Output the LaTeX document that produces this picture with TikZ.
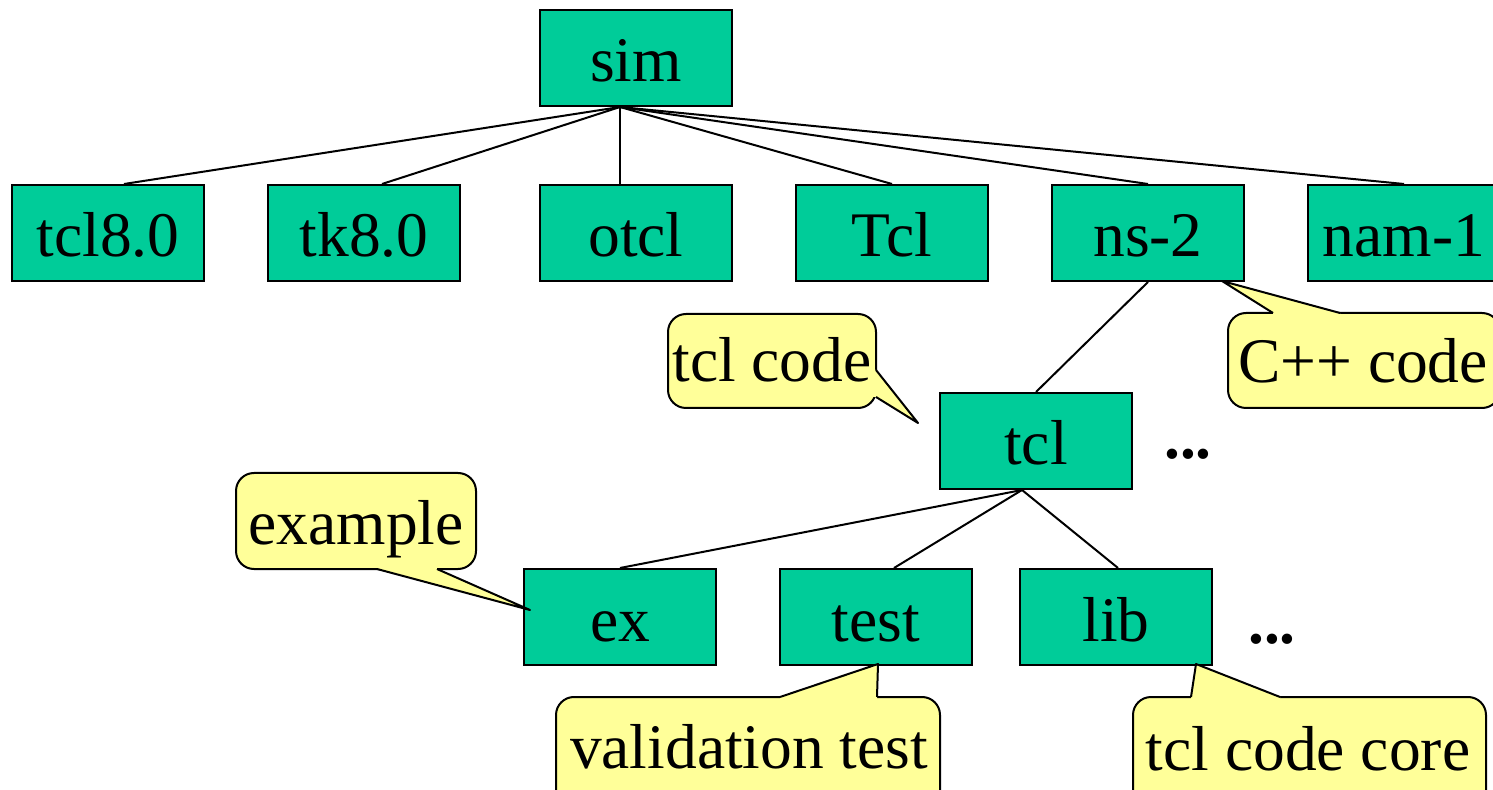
\documentclass[tikz,border=0pt]{standalone}
\usepackage{fontspec}
\setmainfont{Liberation Serif}
\definecolor{boxgreen}{RGB}{0,204,153}
\definecolor{calloutyellow}{RGB}{255,255,153}
\begin{document}
\begin{tikzpicture}[x=0.5pt,y=-0.5pt,
  bigfont/.style={font=\fontsize{31.75}{38}\selectfont},
  dirbox/.style={bigfont, draw=black, line width=1pt, fill=boxgreen,
    minimum width=96pt, minimum height=48pt, inner sep=0pt,
    text height=26pt, text depth=2pt},
  lbl/.style={bigfont, inner sep=0pt, text height=26pt, text depth=2pt},
  callout/.style={draw=black, line width=1pt, fill=calloutyellow, rounded corners=9pt},
  pointer/.style={draw=black, line width=1pt, line join=round},
  pointerfill/.style={fill=calloutyellow},
  link/.style={draw=black, line width=1pt}]
\useasboundingbox (0,0) rectangle (1493,790);
\clip (0,0) rectangle (1493,790);

% directory boxes
\node[dirbox] (sim)   at (636,58)  {sim};
\node[dirbox] (tcl80) at (108,233) {tcl8.0};
\node[dirbox] (tk80)  at (364,233) {tk8.0};
\node[dirbox] (otcl)  at (636,233) {otcl};
\node[dirbox] (Tcl)   at (892,233) {Tcl};
\node[dirbox] (ns2)   at (1148,233) {ns-2};
\node[dirbox] (nam1)  at (1404,233) {nam-1};
\node[dirbox] (tcl)   at (1036,441) {tcl};
\node[dirbox] (ex)    at (620,617) {ex};
\node[dirbox] (test)  at (876,617) {test};
\node[dirbox] (lib)   at (1116,617) {lib};

% connectors
\coordinate (simhub) at ([xshift=-8pt]sim.south);
\draw[link] (simhub) -- ([xshift=8pt]tcl80.north);
\draw[link] (simhub) -- ([xshift=9pt]tk80.north);
\draw[link] (simhub) -- ([xshift=-8pt]otcl.north);
\draw[link] (simhub) -- (Tcl.north);
\draw[link] (simhub) -- (ns2.north);
\draw[link] (simhub) -- (nam1.north);
\draw[link] (ns2.south) -- (tcl.north);
\coordinate (tclhub) at ([xshift=-7pt]tcl.south);
\draw[link] (tclhub) -- (ex.north);
\draw[link] (tclhub) -- ([xshift=9pt]test.north);
\draw[link] (tclhub) -- ([xshift=1pt]lib.north);

% ellipses
\node[bigfont, inner sep=0pt, anchor=base] (dots1) at (1188,459) {\textbf{...}};
\node[bigfont, inner sep=0pt, anchor=base] (dots2) at (1272,643) {\textbf{...}};

% callout: tcl code
\draw[callout] (668,314) rectangle (876,408);
\fill[pointerfill] (872,370) -- (876,370) -- (918,423) -- (876,397) -- (872,397) -- cycle;
\draw[pointer] (876,370) -- (918,423) -- (876,397);
\node[lbl] (tclcode) at (772,358) {tcl code};

% callout: C++ code
\draw[callout] (1228,313) rectangle (1500,408);
\fill[pointerfill] (1273,317) -- (1273,313) -- (1222,281) -- (1340,313) -- (1340,317) -- cycle;
\draw[pointer] (1273,313) -- (1222,281) -- (1340,313);
\node[lbl] (cppcode) at (1363,359) {C++ code};

% callout: example
\draw[callout] (236,473) rectangle (476,569);
\fill[pointerfill] (377,565) -- (377,569) -- (530,610) -- (437,569) -- (437,565) -- cycle;
\draw[pointer] (377,569) -- (530,610) -- (437,569);
\node[lbl] (example) at (356,521) {example};

% callout: validation test
\draw[callout] (556,697) rectangle (940,820);
\fill[pointerfill] (780,701) -- (780,697) -- (878,664) -- (877,697) -- (877,701) -- cycle;
\draw[pointer] (780,697) -- (878,664) -- (877,697);
\node[lbl] (valtest) at (749,744) {validation test};

% callout: tcl code core
\draw[callout] (1133,697) rectangle (1486,820);
\fill[pointerfill] (1191,701) -- (1191,697) -- (1196,664) -- (1280,697) -- (1280,701) -- cycle;
\draw[pointer] (1191,697) -- (1196,664) -- (1280,697);
\node[lbl] (core) at (1308,746) {tcl code core};
\end{tikzpicture}
\end{document}
